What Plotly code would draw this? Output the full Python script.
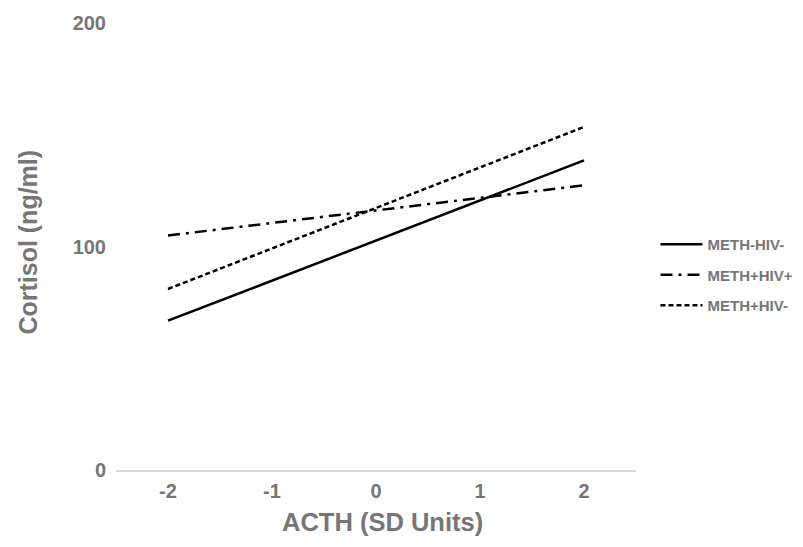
import plotly.graph_objects as go

x_vals = [-2, 2]
tick_vals = [-2, -1, 0, 1, 2]
tick_text = ["-2", "-1", "0", "1", "2"]
y_tick_vals = [0, 100, 200]

series_names = ["METH-HIV-", "METH+HIV+", "METH+HIV-"]
meth_hiv_neg = [66.8, 138.5]
meth_hiv_pos = [104.9, 127.4]
meth_pos_hiv_neg = [81.0, 153.5]

dashes = ["solid", "12px,6px,3px,6px", "5px,3px"]
series = [meth_hiv_neg, meth_hiv_pos, meth_pos_hiv_neg]

gray = "#767676"
font_family = "Liberation Sans, Arial, sans-serif"

fig = go.Figure()
for name, vals, d in zip(series_names, series, dashes):
    fig.add_trace(go.Scatter(
        x=x_vals, y=vals, mode="lines", name=name, legendgroup=name,
        line=dict(color="black", width=2.5, dash=d),
    ))

fig.update_layout(
    width=803, height=547,
    margin=dict(l=116, r=167, t=18, b=77),
    plot_bgcolor="white", paper_bgcolor="white",
    font=dict(family=font_family, color=gray),
    showlegend=True,
    legend=dict(
        xref="container", x=0.8163, y=0.436, xanchor="left", yanchor="middle",
        font=dict(size=15, color=gray, family=font_family, weight="bold"),
        tracegroupgap=8, itemwidth=42, borderwidth=0,
    ),
    xaxis=dict(
        range=[-2.5, 2.5], tickvals=tick_vals, ticktext=tick_text,
        showgrid=False, zeroline=False,
        showline=True, linecolor="#d9d9d9", linewidth=1.5,
        ticks="", ticklabelstandoff=2,
        tickfont=dict(size=20, color=gray, family=font_family, weight="bold"),
    ),
    yaxis=dict(
        range=[0, 200], tickvals=y_tick_vals,
        showgrid=False, zeroline=False, showline=False,
        ticks="", ticklabelstandoff=9, ticklabeloverflow="allow",
        tickfont=dict(size=20, color=gray, family=font_family, weight="bold"),
    ),
    annotations=[
        dict(
            text="Cortisol (ng/ml)", textangle=-90,
            xref="paper", yref="paper", x=-0.169, y=0.509,
            xanchor="center", yanchor="middle", showarrow=False,
            font=dict(size=25, color=gray, family=font_family, weight="bold"),
        ),
        dict(
            text="ACTH (SD Units)",
            xref="paper", yref="paper", x=0.513, y=-0.117,
            xanchor="center", yanchor="middle", showarrow=False,
            font=dict(size=25.5, color=gray, family=font_family, weight="bold"),
        ),
    ],
)

fig.write_html("out.html", post_script="document.body.style.margin='0px';",
               config={"displayModeBar": False})
